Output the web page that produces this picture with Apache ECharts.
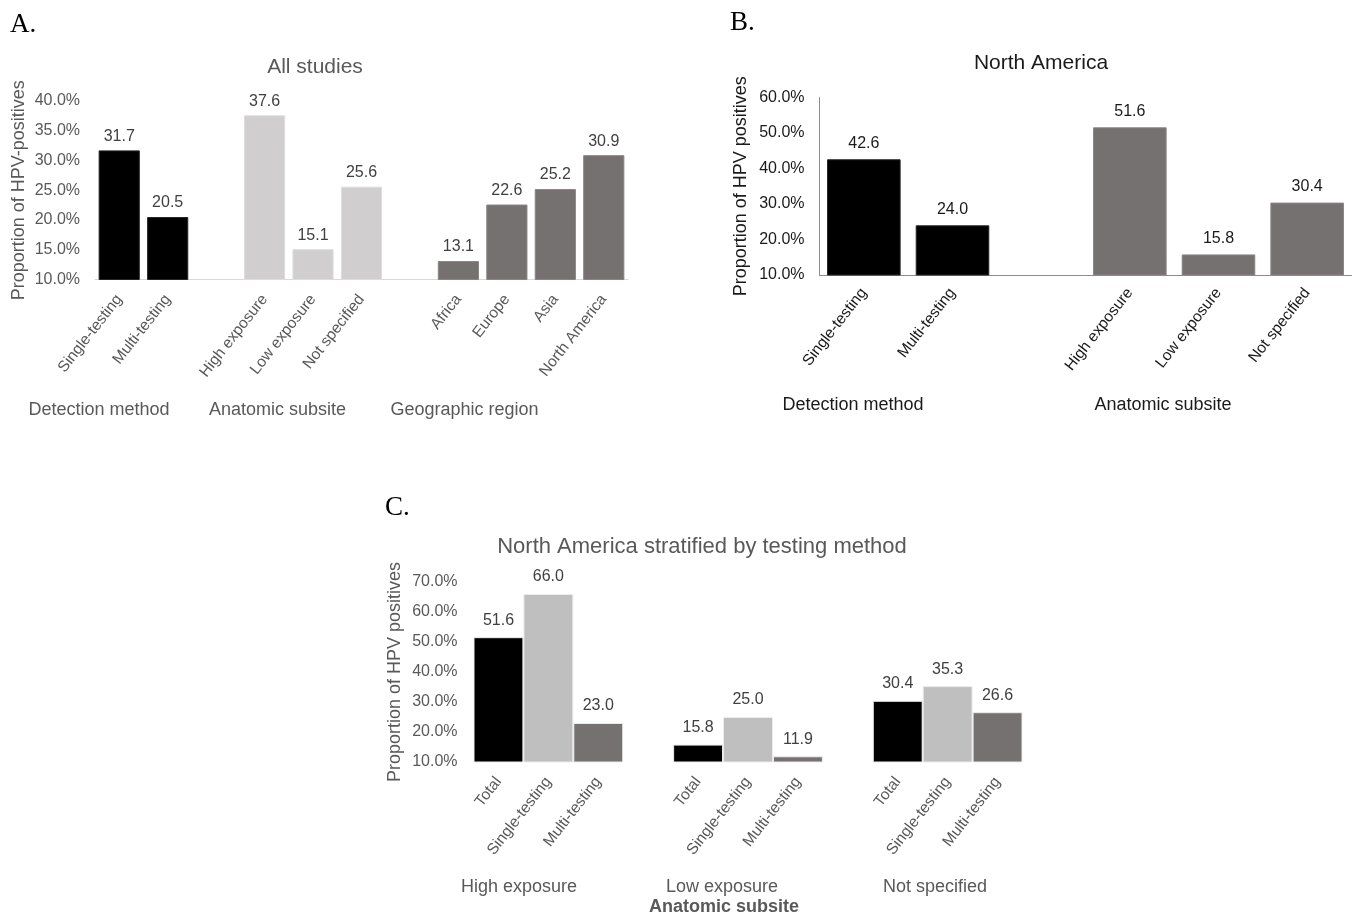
<!DOCTYPE html>
<html>
<head>
<meta charset="utf-8">
<script src="https://cdn.jsdelivr.net/npm/echarts@6/dist/echarts.min.js"></script>
<style>
html,body{margin:0;padding:0;background:#fff;}
#chart{width:1357px;height:917px;}
</style>
</head>
<body>
<div id="chart"></div>
<script>
// ---- Data ----
// Panel A: All studies
const aDetectionCats = ['Single-testing', 'Multi-testing'];
const aDetectionVals = [31.7, 20.5];
const aSubsiteCats = ['High exposure', 'Low exposure', 'Not specified'];
const aSubsiteVals = [37.6, 15.1, 25.6];
const aRegionCats = ['Africa', 'Europe', 'Asia', 'North America'];
const aRegionVals = [13.1, 22.6, 25.2, 30.9];
// Panel B: North America
const bDetectionCats = ['Single-testing', 'Multi-testing'];
const bDetectionVals = [42.6, 24.0];
const bSubsiteCats = ['High exposure', 'Low exposure', 'Not specified'];
const bSubsiteVals = [51.6, 15.8, 30.4];
// Panel C: North America stratified by testing method
const cMethods = ['Total', 'Single-testing', 'Multi-testing'];
const cSubsites = ['High exposure', 'Low exposure', 'Not specified'];
const cHighVals = [51.6, 66.0, 23.0];
const cLowVals = [15.8, 25.0, 11.9];
const cNotSpecVals = [30.4, 35.3, 26.6];
// Tick ranges
const aTicks = {min: 10, max: 40, interval: 5};
const bTicks = {min: 10, max: 60, interval: 10};
const cTicks = {min: 10, max: 70, interval: 10};

// ---- Styles ----
const BLACK = '#000000';
const LIGHT = '#d0cece';
const DARK = '#767171';
const C_LIGHT = '#bfbfbf';
const GRAY_TXT = '#595959';
const DARK_TXT = '#1a1a1a';
const FONT = '"Liberation Sans", Arial, sans-serif';
const SERIF = '"Liberation Serif", "DejaVu Serif", serif';

function buildGroups(groups) {
  const cats = [], data = [];
  groups.forEach((g, gi) => {
    if (gi > 0) { cats.push(''); data.push('-'); }
    g.cats.forEach((c, i) => {
      cats.push(c);
      data.push({value: g.vals[i], itemStyle: {color: g.color, borderColor: g.border, borderWidth: 1}});
    });
  });
  return {cats, data};
}

const A = buildGroups([
  {cats: aDetectionCats, vals: aDetectionVals, color: BLACK, border: '#262626'},
  {cats: aSubsiteCats, vals: aSubsiteVals, color: LIGHT, border: '#dedede'},
  {cats: aRegionCats, vals: aRegionVals, color: DARK, border: '#8a8585'}
]);
const B = buildGroups([
  {cats: bDetectionCats, vals: bDetectionVals, color: BLACK, border: '#262626'},
  {cats: bSubsiteCats, vals: bSubsiteVals, color: DARK, border: '#8a8585'}
]);
const cColors = [BLACK, C_LIGHT, DARK];
const C = (function () {
  const cats = [], data = [];
  [cHighVals, cLowVals, cNotSpecVals].forEach((vals, gi) => {
    if (gi > 0) { cats.push(''); data.push('-'); }
    vals.forEach((v, i) => {
      cats.push(cMethods[i] + (gi > 0 ? '\u200b'.repeat(gi) : ''));
      data.push({value: v, itemStyle: {color: cColors[i], borderColor: '#ececec', borderWidth: 1}});
    });
  });
  return {cats, data};
})();

const fmtPct = v => v.toFixed(1) + '%';

function xAxisFor(gridIndex, cats, color, lineShow, lineColor, rotate, margin, fontSize) {
  return {
    type: 'category', gridIndex, data: cats,
    axisTick: {show: false},
    axisLine: {show: lineShow, lineStyle: {color: lineColor, width: 1}},
    axisLabel: {interval: 0, rotate, margin, color, fontSize, fontFamily: FONT},
    splitLine: {show: false}
  };
}
function yAxisFor(gridIndex, ticks, name, color, lineShow, lineColor, nameGap, margin) {
  return {
    type: 'value', gridIndex, min: ticks.min, max: ticks.max, interval: ticks.interval,
    name, nameLocation: 'middle', nameGap, nameRotate: 90,
    nameTextStyle: {color, fontSize: 18, fontFamily: FONT},
    axisLine: {show: lineShow, lineStyle: {color: lineColor, width: 1}},
    axisTick: {show: false},
    splitLine: {show: false},
    axisLabel: {formatter: fmtPct, color, fontSize: 16, fontFamily: FONT, margin}
  };
}

function txt(text, x, y, color, size, extra) {
  return {
    type: 'text', x, y, silent: true,
    style: {text, fill: color, font: (extra && extra.weight ? extra.weight + ' ' : '') + size + 'px ' + (extra && extra.family ? extra.family : FONT),
      textAlign: (extra && extra.align) || 'center', textVerticalAlign: 'middle'}
  };
}

const chart = echarts.init(document.getElementById('chart'), null, {renderer: 'canvas'});
chart.setOption({
  backgroundColor: '#ffffff',
  animation: false,
  grid: [
    {left: 95, top: 101, width: 533, height: 178.5},
    {left: 819.5, top: 97.5, width: 532, height: 177.5},
    {left: 473.5, top: 582, width: 549, height: 180}
  ],
  xAxis: [
    xAxisFor(0, A.cats, GRAY_TXT, true, '#d9d9d9', 52, 17, 15.5),
    xAxisFor(1, B.cats, DARK_TXT, true, '#8c8c8c', 52, 15, 15.5),
    xAxisFor(2, C.cats, GRAY_TXT, false, '#d9d9d9', 52, 17, 15.5)
  ],
  yAxis: [
    yAxisFor(0, aTicks, 'Proportion of HPV-positives', GRAY_TXT, false, '#d9d9d9', 67, 15),
    yAxisFor(1, bTicks, 'Proportion of HPV positives', DARK_TXT, true, '#8c8c8c', 69, 15),
    yAxisFor(2, cTicks, 'Proportion of HPV positives', GRAY_TXT, false, '#d9d9d9', 69, 16)
  ],
  series: [
    {type: 'bar', xAxisIndex: 0, yAxisIndex: 0, data: A.data, barCategoryGap: '15%',
      label: {show: true, position: 'top', distance: 6, color: '#404040', fontSize: 16, fontFamily: FONT, formatter: p => p.value.toFixed(1)}},
    {type: 'bar', xAxisIndex: 1, yAxisIndex: 1, data: B.data, barCategoryGap: '17%',
      label: {show: true, position: 'top', distance: 8, color: DARK_TXT, fontSize: 16, fontFamily: FONT, formatter: p => p.value.toFixed(1)}},
    {type: 'bar', xAxisIndex: 2, yAxisIndex: 2, data: C.data, barCategoryGap: '0%',
      label: {show: true, position: 'top', distance: 9, color: '#404040', fontSize: 16, fontFamily: FONT, formatter: p => p.value.toFixed(1)}}
  ],
  graphic: [
    txt('A.', 10, 25, '#000', 27, {family: SERIF, align: 'left'}),
    txt('B.', 730, 23, '#000', 27, {family: SERIF, align: 'left'}),
    txt('C.', 385, 508, '#000', 27, {family: SERIF, align: 'left'}),
    txt('All studies', 315, 67, GRAY_TXT, 21),
    txt('North America', 1041, 63, DARK_TXT, 21),
    txt('North America stratified by testing method', 702, 547, GRAY_TXT, 22),
    txt('Detection method', 99, 410, GRAY_TXT, 18),
    txt('Anatomic subsite', 277.5, 410, GRAY_TXT, 18),
    txt('Geographic region', 464.5, 410, GRAY_TXT, 18),
    txt('Detection method', 853, 405, DARK_TXT, 18),
    txt('Anatomic subsite', 1163, 405, DARK_TXT, 18),
    txt(cSubsites[0], 519, 887, GRAY_TXT, 18),
    txt(cSubsites[1], 722, 887, GRAY_TXT, 18),
    txt(cSubsites[2], 935, 887, GRAY_TXT, 18),
    txt('Anatomic subsite', 724, 907, GRAY_TXT, 18, {weight: 'bold'})
  ]
});
</script>
</body>
</html>
